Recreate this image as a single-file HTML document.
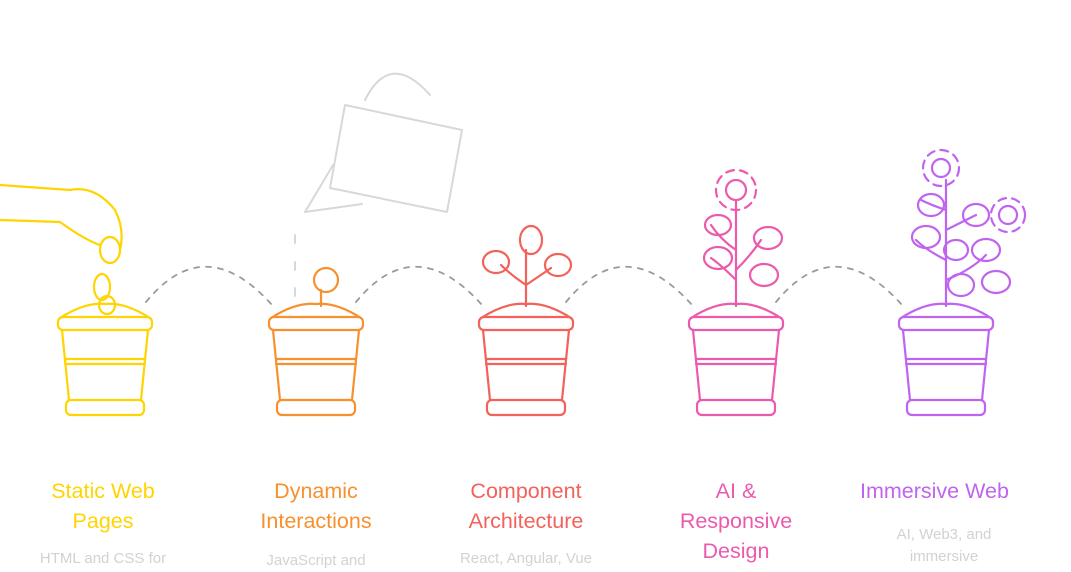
<!DOCTYPE html>
<html><head><meta charset="utf-8"><style>
html,body{margin:0;padding:0;background:#fff;width:1071px;height:567px;overflow:hidden}
.t{position:absolute;font-family:"Liberation Sans",sans-serif;font-size:21.5px;line-height:30px;text-align:center;width:200px}
.s{position:absolute;font-family:"Liberation Sans",sans-serif;font-size:15px;line-height:22px;text-align:center;width:200px;color:#d2d2d2}
</style></head><body>
<svg width="1071" height="567" style="position:absolute;left:0;top:0" fill="none" stroke-width="2.2" stroke-linecap="round" stroke-linejoin="round">
<defs>
<g id="pot">
<path d="M-45,318 Q-20,302 0,304 Q20,302 45,318"/>
<rect x="-47" y="317" width="94" height="13" rx="5"/>
<path d="M-43,330 L-36,400 M43,330 L36,400 M-40,359 H40 M-40,364 H40"/>
<rect x="-39" y="400" width="78" height="15" rx="5"/>
</g>
</defs>
<g stroke="#9a9a9a" stroke-width="1.8" stroke-dasharray="5 7">
<path d="M146,302 Q205,230 272,305"/>
<path d="M356,302 Q415,230 482,305"/>
<path d="M566,302 Q625,230 692,305"/>
<path d="M776,302 Q835,230 902,305"/>
</g>
<g stroke="#d8d8d8" stroke-width="2">
<path d="M345,105 L462,130 L447,212 L330,188 Z"/>
<path d="M365,100 Q390,50 430,95"/>
<path d="M333,165 L305,212 L362,204"/>
<path d="M295,235 v8 M295,262 v8 M295,288 v8"/>
</g>
<g stroke="#FFD400" transform="translate(105,0)"><use href="#pot"/>
<ellipse cx="-3" cy="287" rx="8" ry="13"/><ellipse cx="2" cy="305" rx="8" ry="9"/>
<ellipse cx="5" cy="250" rx="10" ry="13"/>
<path d="M-105,185 L-35,190 Q-10,185 10,210 Q20,230 15,250 M-105,220 L-45,222 Q-20,240 -5,245"/>
</g>
<g stroke="#F7902F" transform="translate(316,0)"><use href="#pot"/>
<path d="M5,306 V290"/><circle cx="10" cy="280" r="12"/>
</g>
<g stroke="#F2625A" transform="translate(526,0)"><use href="#pot"/>
<path d="M0,306 V275 M0,285 Q-15,275 -25,265 M0,285 Q15,275 25,268 M0,275 V250"/>
<ellipse cx="-30" cy="262" rx="13" ry="11"/><ellipse cx="5" cy="240" rx="11" ry="14"/><ellipse cx="32" cy="265" rx="13" ry="11"/>
</g>
<g stroke="#EC5AAE" transform="translate(736,0)"><use href="#pot"/>
<path d="M0,306 V200 M0,280 Q-15,265 -25,258 M0,270 Q15,255 25,240 M0,250 Q-15,240 -25,225"/>
<circle cx="0" cy="190" r="10"/><circle cx="0" cy="190" r="20" stroke-dasharray="8 6"/>
<ellipse cx="-18" cy="258" rx="14" ry="11"/><ellipse cx="32" cy="238" rx="14" ry="11"/><ellipse cx="-18" cy="225" rx="13" ry="10"/><ellipse cx="28" cy="275" rx="14" ry="11"/>
</g>
<g stroke="#C064F0" transform="translate(946,0)"><use href="#pot"/>
<path d="M0,306 V180 M0,280 Q25,270 40,255 M0,260 Q-20,250 -30,240 M0,230 Q20,220 30,215 M0,210 Q-15,205 -25,200"/>
<circle cx="-5" cy="168" r="9"/><circle cx="-5" cy="168" r="18" stroke-dasharray="8 6"/>
<circle cx="62" cy="215" r="9"/><circle cx="62" cy="215" r="17" stroke-dasharray="8 6"/>
<ellipse cx="-20" cy="237" rx="14" ry="11"/><ellipse cx="30" cy="215" rx="13" ry="11"/><ellipse cx="-15" cy="205" rx="13" ry="11"/>
<ellipse cx="40" cy="250" rx="14" ry="11"/><ellipse cx="15" cy="285" rx="13" ry="11"/><ellipse cx="50" cy="282" rx="14" ry="11"/><ellipse cx="10" cy="250" rx="12" ry="10"/>
</g>
</svg>
<div class="t" style="left:3px;top:476px;color:#FFD400">Static Web<br>Pages</div>
<div class="t" style="left:216px;top:476px;color:#F7902F">Dynamic<br>Interactions</div>
<div class="t" style="left:426px;top:476px;color:#F2625A">Component<br>Architecture</div>
<div class="t" style="left:636px;top:476px;color:#EC5AAE">AI &amp;<br>Responsive<br>Design</div>
<div style="position:absolute;left:840px;top:476px;width:187px;overflow:hidden"><div class="t" style="position:relative;left:20px;color:#C064F0;white-space:nowrap;text-align:left">Immersive Web</div></div>
<div class="s" style="left:3px;top:548px">HTML and CSS for</div>
<div class="s" style="left:216px;top:550px">JavaScript and</div>
<div class="s" style="left:426px;top:548px">React, Angular, Vue</div>
<div class="s" style="left:844px;top:524px">AI, Web3, and<br>immersive</div>
</body></html>
